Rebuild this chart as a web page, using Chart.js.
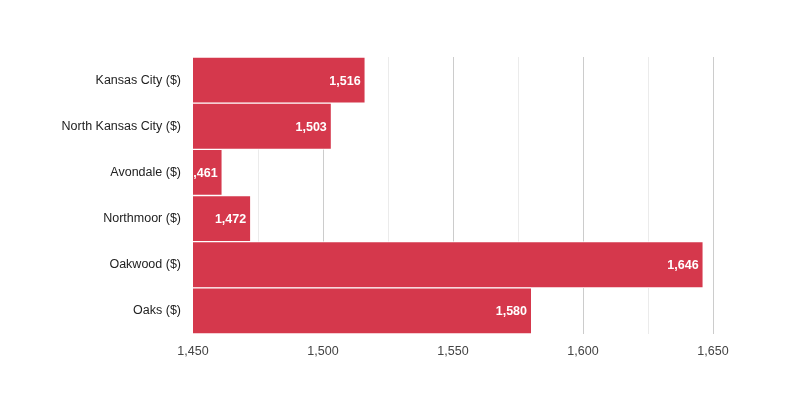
<!DOCTYPE html>
<html>
<head>
<meta charset="utf-8">
<script src="https://cdn.jsdelivr.net/npm/chart.js@4/dist/chart.umd.min.js"></script>
<style>
  html, body { margin: 0; padding: 0; background: #fff; }
  #wrap { width: 800px; height: 400px; }
</style>
</head>
<body>
<div id="wrap"><canvas id="chart" width="800" height="400"></canvas></div>
<script>
const cities = ["Kansas City ($)", "North Kansas City ($)", "Avondale ($)", "Northmoor ($)", "Oakwood ($)", "Oaks ($)"];
const values = [1516, 1503, 1461, 1472, 1646, 1580];
const xMin = 1450;
const xMax = 1650;

const fmt = (v) => v.toLocaleString("en-US");

// white value labels inside the bar end, clipped to the plot area
const barLabels = {
  id: "barLabels",
  afterDatasetsDraw(chart) {
    const ctx = chart.ctx;
    const area = chart.chartArea;
    const meta = chart.getDatasetMeta(0);
    ctx.save();
    ctx.beginPath();
    ctx.rect(area.left, area.top, area.right - area.left, area.bottom - area.top);
    ctx.clip();
    ctx.fillStyle = "#ffffff";
    ctx.font = "bold 12.5px 'Liberation Sans', Arial, sans-serif";
    ctx.textAlign = "right";
    ctx.textBaseline = "middle";
    meta.data.forEach((bar, i) => {
      ctx.fillText(fmt(values[i]), bar.x - 4, bar.y + 1);
    });
    ctx.restore();
  },
};

const ctx = document.getElementById("chart");
new Chart(ctx, {
  type: "bar",
  data: {
    labels: cities,
    datasets: [
      {
        data: values,
        backgroundColor: "#d5384c",
        borderColor: "#ffffff",
        borderWidth: { top: 1, bottom: 1, left: 0, right: 0 },
        borderSkipped: false,
        barPercentage: 1,
        categoryPercentage: 1,
      },
    ],
  },
  options: {
    indexAxis: "y",
    responsive: false,
    animation: false,
    layout: { padding: { top: 57, right: 87, bottom: 0, left: 0 } },
    plugins: {
      legend: { display: false },
      tooltip: { enabled: false },
    },
    scales: {
      x: {
        min: xMin,
        max: xMax,
        ticks: {
          stepSize: 25,
          padding: 10,
          color: "#444",
          font: { family: "'Liberation Sans', Arial, sans-serif", size: 12.5 },
          callback: (v) => (v % 50 === 0 ? fmt(v) : ""),
        },
        grid: {
          color: (c) => (c.tick && c.tick.value % 50 === 0 ? "#cccccc" : "#ebebeb"),
          drawTicks: false,
        },
        border: { display: false },
        afterFit: (scale) => { scale.height = 66; },
      },
      y: {
        ticks: {
          padding: 12,
          color: "#222",
          font: { family: "'Liberation Sans', Arial, sans-serif", size: 12.5 },
        },
        grid: { display: false, drawTicks: false },
        border: { display: false },
        afterFit: (scale) => { scale.width = 193; },
      },
    },
  },
  plugins: [barLabels],
});
</script>
</body>
</html>
